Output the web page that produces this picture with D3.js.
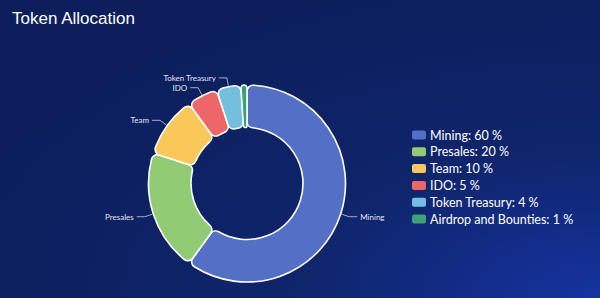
<!DOCTYPE html>
<html>
<head>
<meta charset="utf-8">
<script src="https://cdn.jsdelivr.net/npm/d3@7"></script>
<style>
  html, body { margin: 0; padding: 0; background: #0c1d5c; }
  svg { display: block; }
</style>
</head>
<body>
<svg id="chart" width="600" height="298"></svg>
<script>
// token allocation shares
const categories = ['Mining', 'Presales', 'Team', 'IDO', 'Token Treasury', 'Airdrop and Bounties'];
const shares = [60, 20, 10, 5, 4, 1];
const palette = ['#5470c6', '#91cc75', '#fac858', '#ee6666', '#73c0de', '#3ba272'];
// slices too thin to get an outside label
const noLabel = ['Airdrop and Bounties'];

const W = 600, H = 298;
const cx = 247, cy = 183.5, rOuter = 98.5, rInner = 56;

const svg = d3.select('#chart');

// background: dark navy with a brighter corner at the bottom right
const defs = svg.append('defs');
const bg = defs.append('radialGradient').attr('id', 'bg')
  .attr('cx', 1).attr('cy', 1).attr('r', 1.1);
bg.append('stop').attr('offset', 0).attr('stop-color', '#1533a0');
bg.append('stop').attr('offset', 0.45).attr('stop-color', '#0f256c');
bg.append('stop').attr('offset', 1).attr('stop-color', '#0c1e5c');
svg.append('rect').attr('width', W).attr('height', H).attr('fill', 'url(#bg)');

svg.append('text')
  .attr('x', 12).attr('y', 24)
  .attr('fill', '#ffffff')
  .style('font', '17px "Liberation Sans", Arial, sans-serif')
  .text('Token Allocation');

const items = categories.map((c, i) => ({name: c, value: shares[i], color: palette[i]}));

const pie = d3.pie().value(d => d.value).sort(null);
const arc = d3.arc().innerRadius(rInner).outerRadius(rOuter).cornerRadius(6);
const arcs = pie(items);

const g = svg.append('g').attr('transform', `translate(${cx},${cy})`);

g.selectAll('path.slice').data(arcs).join('path')
  .attr('class', 'slice')
  .attr('d', arc)
  .attr('fill', d => d.data.color)
  .attr('stroke', '#ffffff')
  .attr('stroke-width', 1.6)
  .attr('stroke-linejoin', 'round');

// outside labels with a two-piece leader line
const len1 = 9, len2 = 8;
const labelled = arcs.filter(d => noLabel.indexOf(d.data.name) < 0);
labelled.forEach(d => {
  const a = (d.startAngle + d.endAngle) / 2;
  const sx = Math.sin(a), sy = -Math.cos(a);
  const p0 = [sx * (rOuter + 1), sy * (rOuter + 1)];
  const p1 = [sx * (rOuter + len1), sy * (rOuter + len1)];
  const dir = sx >= 0 ? 1 : -1;
  const p2 = [p1[0] + dir * len2, p1[1]];
  g.append('polyline')
    .attr('points', [p0, p1, p2].map(p => p.join(',')).join(' '))
    .attr('fill', 'none')
    .attr('stroke', '#c9cede')
    .attr('stroke-width', 0.8);
  g.append('text')
    .attr('x', p2[0] + dir * 3).attr('y', p2[1])
    .attr('dy', '0.35em')
    .attr('text-anchor', dir > 0 ? 'start' : 'end')
    .attr('fill', '#e2e6f0')
    .style('font', '8px Lato, sans-serif')
    .text(d.data.name);
});

// legend on the right
const legend = svg.append('g').attr('transform', 'translate(412,135)');
const row = legend.selectAll('g').data(items).join('g')
  .attr('transform', (d, i) => `translate(0,${i * 16.8})`);
row.append('rect')
  .attr('x', 0).attr('y', -4.5).attr('width', 14).attr('height', 9).attr('rx', 2)
  .attr('fill', d => d.color);
row.append('text')
  .attr('x', 18).attr('y', 0).attr('dy', '0.36em')
  .attr('fill', '#ffffff')
  .style('font', '12.5px Lato, sans-serif')
  .text(d => `${d.name}: ${d.value} %`);
</script>
</body>
</html>
